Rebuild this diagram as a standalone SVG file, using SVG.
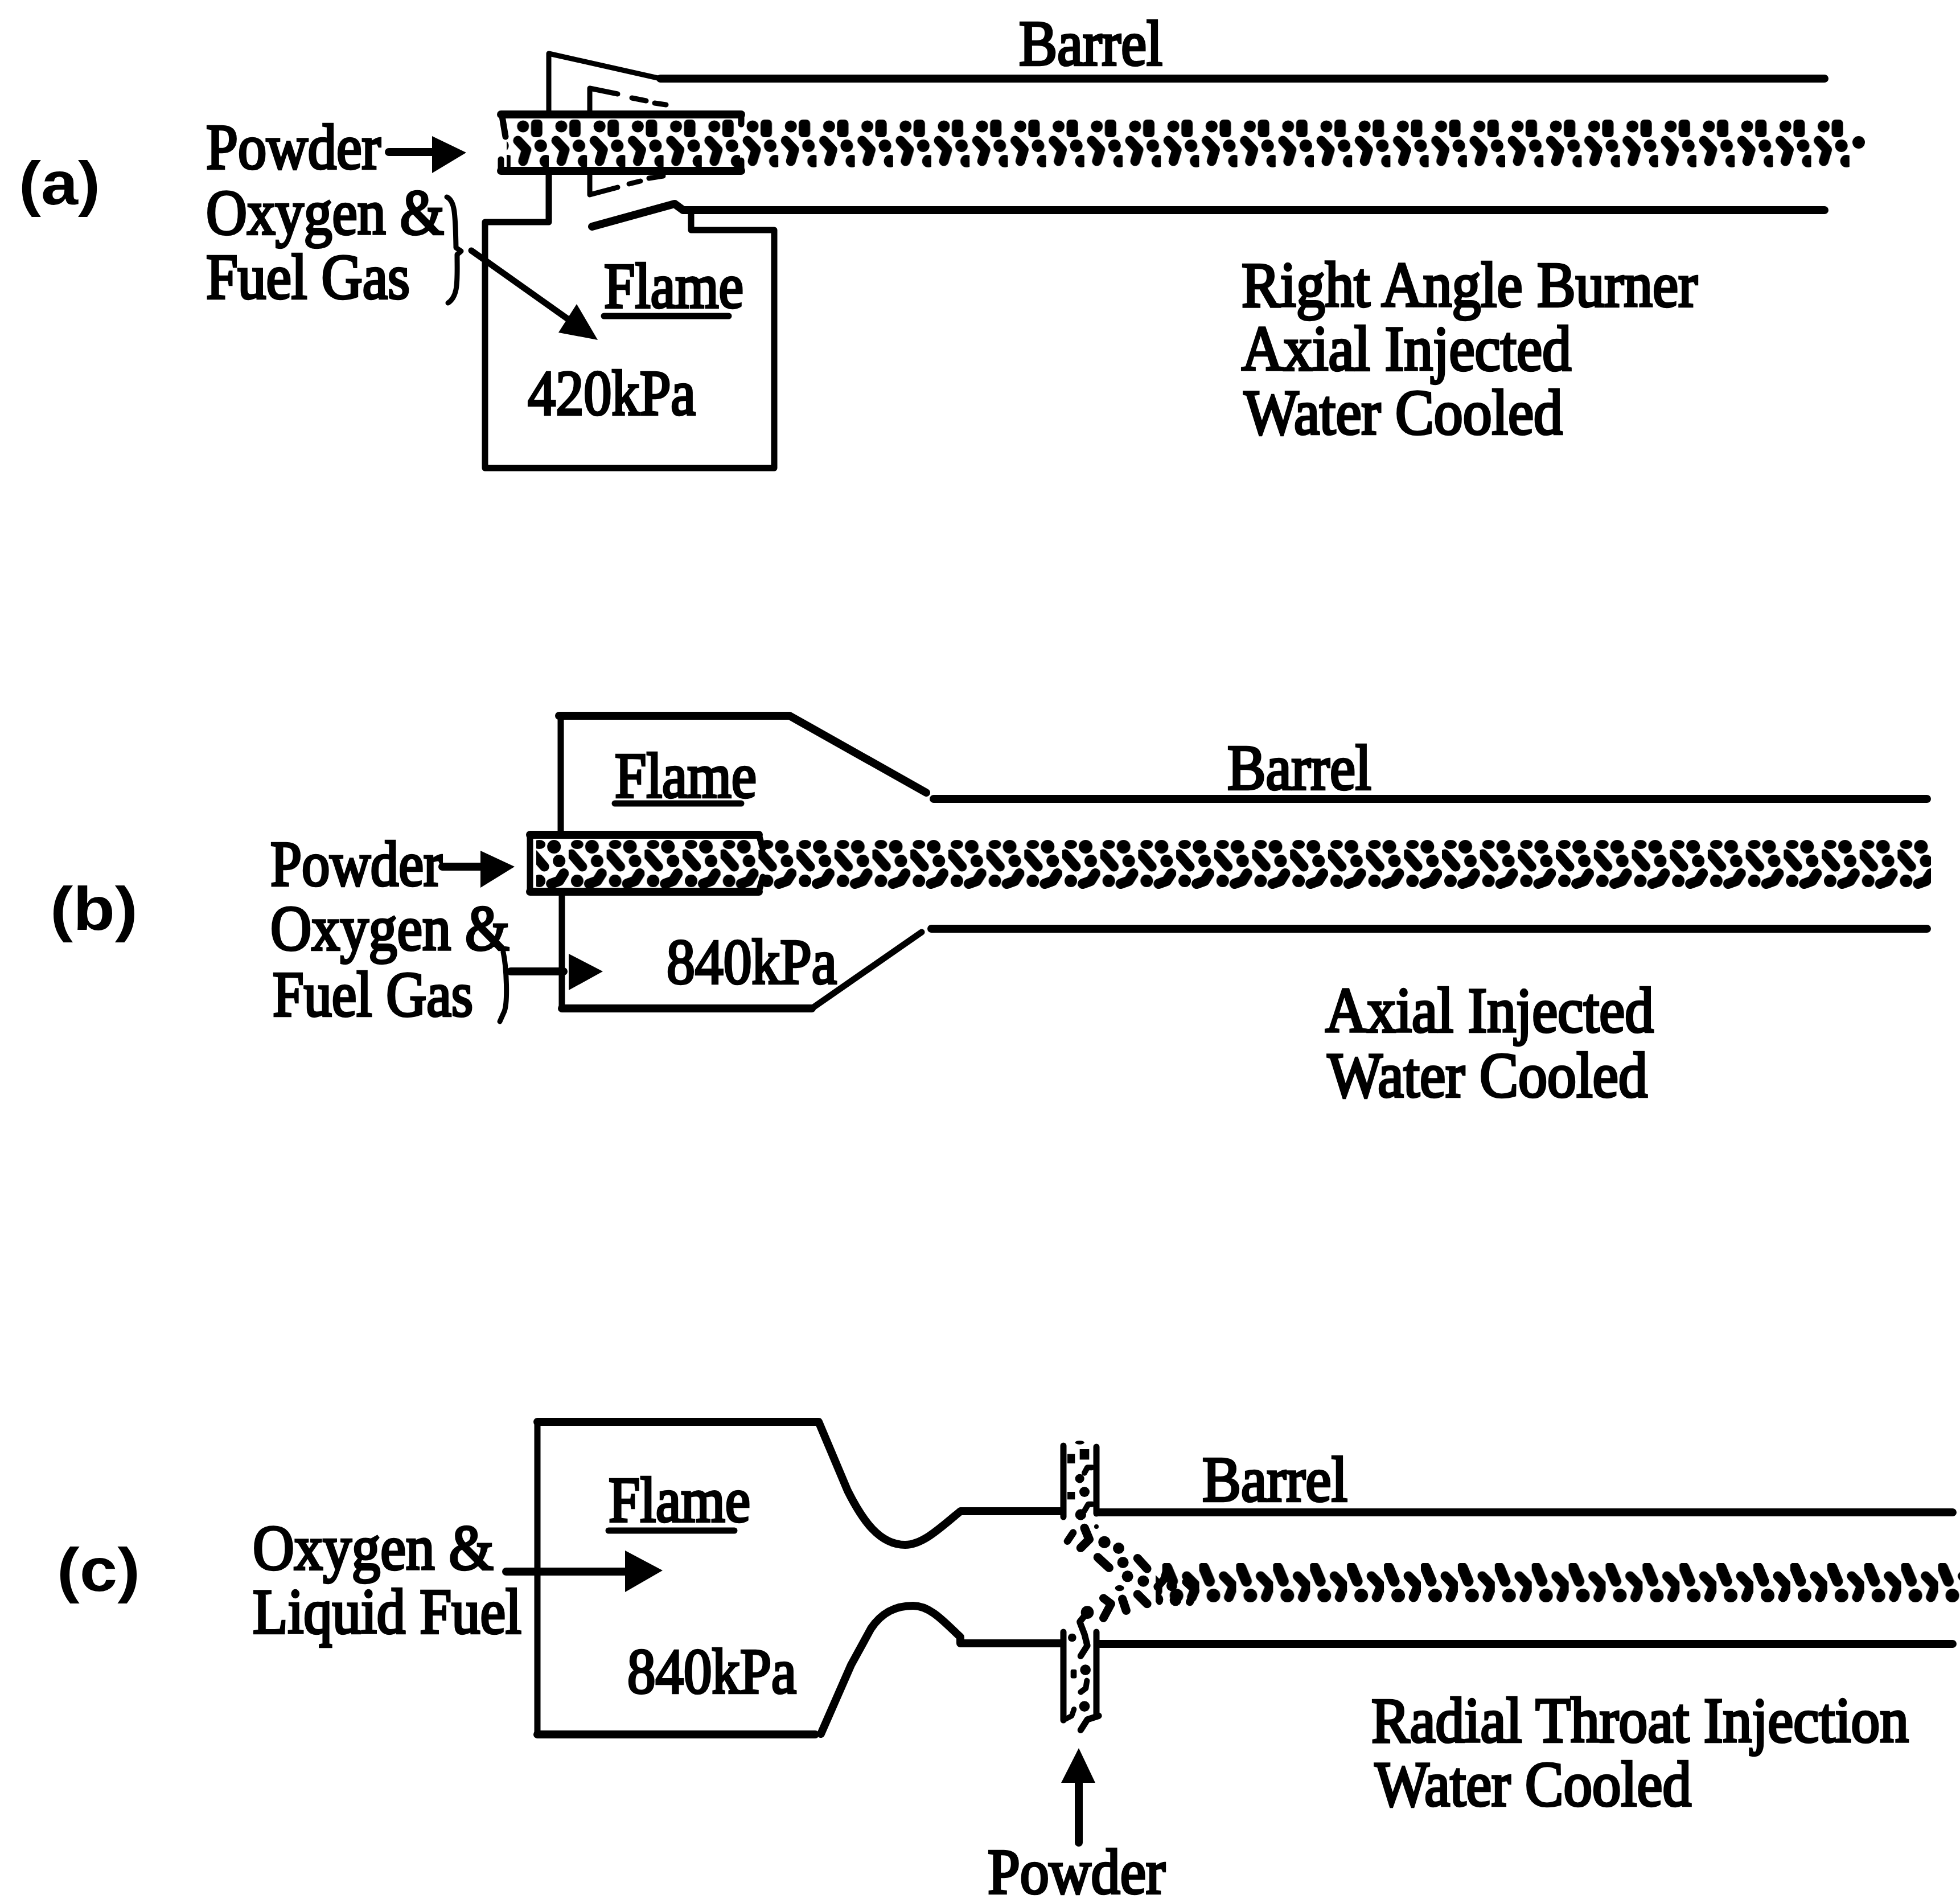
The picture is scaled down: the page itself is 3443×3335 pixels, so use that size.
<svg xmlns="http://www.w3.org/2000/svg" width="3443" height="3335" viewBox="0 0 3443 3335">
<style>
.l{fill:none;stroke:#000;stroke-linejoin:round;stroke-linecap:round}
.w4{stroke-width:9}.w5{stroke-width:11}.w6{stroke-width:14}
.t{font-family:"Liberation Serif","Times New Roman",serif;font-size:112px;fill:#000;stroke:#000;stroke-width:4.5}
.h{font-family:"Liberation Sans",Arial,sans-serif;font-size:108px;font-weight:bold;fill:#000}
.k{stroke:#000;fill:none;stroke-linecap:round;stroke-linejoin:round}
</style>
<defs>
<pattern id="pa" patternUnits="userSpaceOnUse" x="1300" y="180" width="67.2" height="140">
<circle cx="22" cy="42" r="10.5"/><rect x="36" y="30" width="20" height="31" rx="7"/>
<path class="k" stroke-width="17" d="M13 67 L28 83 L22 103"/><circle cx="53" cy="76" r="11"/><circle cx="62" cy="103" r="11"/>
</pattern>
<pattern id="pb" patternUnits="userSpaceOnUse" x="3200" y="1450" width="66.7" height="130">
<ellipse cx="15" cy="33" rx="11" ry="8"/><circle cx="41" cy="37" r="12"/>
<path class="k" stroke-width="17" d="M5 50 L24 72"/><circle cx="50" cy="62" r="11"/><circle cx="15" cy="97" r="11"/>
<path class="k" stroke-width="18" d="M36 102 L50 97 L58 84"/>
</pattern>
<pattern id="pc" patternUnits="userSpaceOnUse" x="3145" y="2720" width="64.9" height="120">
<path class="k" stroke-width="19" d="M8 33 L18 57"/><circle cx="25" cy="82" r="12"/>
<path class="k" stroke-width="17" d="M43 48 L60 65 L52 85"/>
</pattern>
</defs>

<g id="panel-a">
<text class="h" x="33" y="359" textLength="143" lengthAdjust="spacingAndGlyphs">(a)</text>
<g id="a-burner">
<path class="l w4" d="M964 196 V94 L1160 138"/>
<path class="l w6" d="M1160 138 H3205"/>
<path class="l w4" d="M1036 196 V155 L1085 165"/>
<path class="l w4" d="M1110 172 L1135 177 M1150 181 L1170 184"/>
<path class="l w4" d="M1036 305 V342 L1085 329 M1105 323 L1125 318 M1140 313 L1165 309"/>
<path class="l w6" d="M1040 398 L1185 358 L1200 369 H3205"/>
<path class="l w5" d="M964 300 V390 H852 V822 H1360 V404 H1214 V369"/>
</g>
<g id="a-tube">
<path class="l w6" d="M880 201 H1302 M880 300 H1302"/>
<path class="l w5" d="M882 204 L888 240 M880 280 V298 M1302 204 V218 M1302 282 V298"/>
<rect x="890" y="208" width="2360" height="88" fill="url(#pa)"/>
<circle cx="3265" cy="250" r="11"/>
</g>
<g id="a-labels">
<text class="t" x="362" y="296" textLength="307" lengthAdjust="spacingAndGlyphs">Powder</text>
<text class="t" x="362" y="411" textLength="418" lengthAdjust="spacingAndGlyphs">Oxygen &amp;</text>
<text class="t" x="362" y="524" textLength="358" lengthAdjust="spacingAndGlyphs">Fuel Gas</text>
<text class="t" x="1061" y="540" textLength="245" lengthAdjust="spacingAndGlyphs">Flame</text>
<path class="l w5" d="M1061 555 H1280"/>
<text class="t" x="927" y="728" textLength="295" lengthAdjust="spacingAndGlyphs">420kPa</text>
<text class="t" x="1790" y="114" textLength="252" lengthAdjust="spacingAndGlyphs">Barrel</text>
<text class="t" x="2181" y="538" textLength="801" lengthAdjust="spacingAndGlyphs">Right Angle Burner</text>
<text class="t" x="2181" y="650" textLength="579" lengthAdjust="spacingAndGlyphs">Axial Injected</text>
<text class="t" x="2185" y="762" textLength="560" lengthAdjust="spacingAndGlyphs">Water Cooled</text>
</g>
</g>

<g id="panel-b">
<text class="h" x="88" y="1633" textLength="154" lengthAdjust="spacingAndGlyphs">(b)</text>
<g id="b-burner">
<path class="l w5" d="M985 1461 V1262"/>
<path class="l w6" d="M982 1257 H1387 L1627 1392"/>
<path class="l w6" d="M1640 1403 H3385"/>
<path class="l w5" d="M987 1566 V1768"/>
<path class="l w6" d="M987 1771 H1426"/>
<path class="l w5" d="M1426 1771 L1619 1637"/>
<path class="l w6" d="M1636 1631 H3385"/>
</g>
<g id="b-tube">
<path class="l w6" d="M931 1466 H1333 M931 1566 H1333"/>
<path class="l w5" d="M931 1466 V1566 M1333 1466 L1340 1490 M1340 1540 L1333 1566"/>
<rect x="942" y="1472" width="2450" height="90" fill="url(#pb)"/>
</g>
<g id="b-labels">
<text class="t" x="475" y="1555" textLength="302" lengthAdjust="spacingAndGlyphs">Powder</text>
<text class="t" x="475" y="1668" textLength="420" lengthAdjust="spacingAndGlyphs">Oxygen &amp;</text>
<text class="t" x="479" y="1784" textLength="352" lengthAdjust="spacingAndGlyphs">Fuel Gas</text>
<text class="t" x="1080" y="1400" textLength="249" lengthAdjust="spacingAndGlyphs">Flame</text>
<path class="l w5" d="M1080 1411 H1302"/>
<text class="t" x="1171" y="1727" textLength="299" lengthAdjust="spacingAndGlyphs">840kPa</text>
<text class="t" x="2156" y="1386" textLength="253" lengthAdjust="spacingAndGlyphs">Barrel</text>
<text class="t" x="2328" y="1812" textLength="577" lengthAdjust="spacingAndGlyphs">Axial Injected</text>
<text class="t" x="2332" y="1926" textLength="562" lengthAdjust="spacingAndGlyphs">Water Cooled</text>
</g>
</g>

<g id="panel-c">
<text class="h" x="100" y="2794" textLength="146" lengthAdjust="spacingAndGlyphs">(c)</text>
<g id="c-burner">
<path class="l w6" d="M944 2497 H1438 L1489 2618 C1515 2670 1545 2713 1590 2713 C1620 2713 1650 2685 1687 2654 H1863"/>
<path class="l w5" d="M944 2497 V3046"/>
<path class="l w6" d="M944 3046 H1432"/>
<path class="l w6" d="M1442 3045 L1495 2924 L1530 2860 C1550 2830 1575 2820 1604 2820 C1635 2820 1660 2850 1687 2875 V2886 H1863"/>
<path class="l w6" d="M1929 2656 H3430 M1929 2887 H3430"/>
</g>
<g id="c-injector">
<path class="l w5" d="M1868 2539 V2664 M1926 2541 V2658 M1868 2866 V3021 M1926 2866 V3012"/>
<g transform="translate(1850 2520) scale(.3333)">
<ellipse cx="140" cy="40" rx="24" ry="10"/><rect x="140" y="75" width="50" height="55"/>
<rect x="75" y="100" width="40" height="50"/><rect x="75" y="300" width="40" height="40"/>
<path class="k" stroke-width="30" d="M205 172 H180 L165 200"/>
<circle cx="140" cy="230" r="24"/><circle cx="165" cy="300" r="27"/>
<path class="k" stroke-width="30" d="M205 365 H185 L165 400"/>
<circle cx="145" cy="420" r="29"/><circle cx="228" cy="483" r="12"/>
<path class="k" stroke-width="38" d="M75 560 L105 515"/>
<path class="k" stroke-width="46" d="M165 490 L190 550 L145 595"/>
<circle cx="270" cy="565" r="32"/><circle cx="345" cy="597" r="30"/>
<path class="k" stroke-width="46" d="M235 645 L295 700"/>
<circle cx="368" cy="672" r="30"/><circle cx="392" cy="745" r="30"/>
<path class="k" stroke-width="46" d="M445 650 L495 705"/>
<circle cx="475" cy="770" r="30"/>
<path class="k" stroke-width="42" d="M598 715 L585 760 L550 800"/>
<circle cx="625" cy="795" r="28"/><ellipse cx="350" cy="807" rx="24" ry="16"/>
<path class="k" stroke-width="46" d="M445 840 L495 890"/>
<ellipse cx="560" cy="868" rx="20" ry="28"/><circle cx="645" cy="870" r="31"/>
<path class="k" stroke-width="42" d="M700 775 L750 820 L720 880"/>
<path class="k" stroke-width="46" d="M365 865 L385 925"/>
<path class="k" stroke-width="44" d="M265 860 L305 890 L265 965"/>
<circle cx="180" cy="935" r="34"/>
<path class="k" stroke-width="34" d="M180 935 L140 985 L165 1050 L180 1110 L145 1165"/>
<circle cx="100" cy="1068" r="22"/><circle cx="170" cy="1238" r="28"/><rect x="92" y="1235" width="32" height="48" rx="10"/>
<path class="k" stroke-width="30" d="M178 1295 L172 1335 L145 1355"/>
<circle cx="165" cy="1430" r="28"/>
<path class="k" stroke-width="28" d="M110 1445 L98 1480 L60 1500"/>
<path class="k" stroke-width="34" d="M240 1480 L180 1500 L145 1555"/>
</g>
<rect x="2030" y="2745" width="1413" height="92" fill="url(#pc)"/>
</g>
<g id="c-labels">
<text class="t" x="444" y="2756" textLength="423" lengthAdjust="spacingAndGlyphs">Oxygen &amp;</text>
<text class="t" x="444" y="2868" textLength="472" lengthAdjust="spacingAndGlyphs">Liquid Fuel</text>
<text class="t" x="1069" y="2672" textLength="249" lengthAdjust="spacingAndGlyphs">Flame</text>
<path class="l w5" d="M1069 2688 H1290"/>
<text class="t" x="1102" y="2973" textLength="297" lengthAdjust="spacingAndGlyphs">840kPa</text>
<text class="t" x="2112" y="2636" textLength="255" lengthAdjust="spacingAndGlyphs">Barrel</text>
<text class="t" x="2409" y="3059" textLength="944" lengthAdjust="spacingAndGlyphs">Radial Throat Injection</text>
<text class="t" x="2415" y="3171" textLength="556" lengthAdjust="spacingAndGlyphs">Water Cooled</text>
<text class="t" x="1735" y="3325" textLength="312" lengthAdjust="spacingAndGlyphs">Powder</text>
</g>
</g>

<g id="connectors">
<path class="l w6" d="M683 267 H765"/><path d="M759 239 L819 268 L759 304Z"/>
<path class="l w5" d="M828 440 L1000 562"/><path d="M1013 534 L1050 597 L981 584Z"/>
<path class="l w4" d="M785 346 C798 352 800 370 801 435 L810 441 L803 447 C803 490 806 520 787 532"/>
<path class="l w6" d="M777 1522 H850"/><path d="M844 1494 L904 1522 L844 1559Z"/>
<path class="l w6" d="M897 1706 H990"/><path d="M999 1675 L1059 1706 L999 1739Z"/>
<path class="l w4" d="M884 1672 C890 1700 892 1760 886 1776 L878 1794"/>
<path class="l w6" d="M889 2760 H1105"/><path d="M1098 2723 L1164 2758 L1098 2796Z"/>
<path class="l w6" d="M1895 3236 V3125"/><path d="M1864 3131 L1895 3070 L1924 3131Z"/>
</g>
</svg>
